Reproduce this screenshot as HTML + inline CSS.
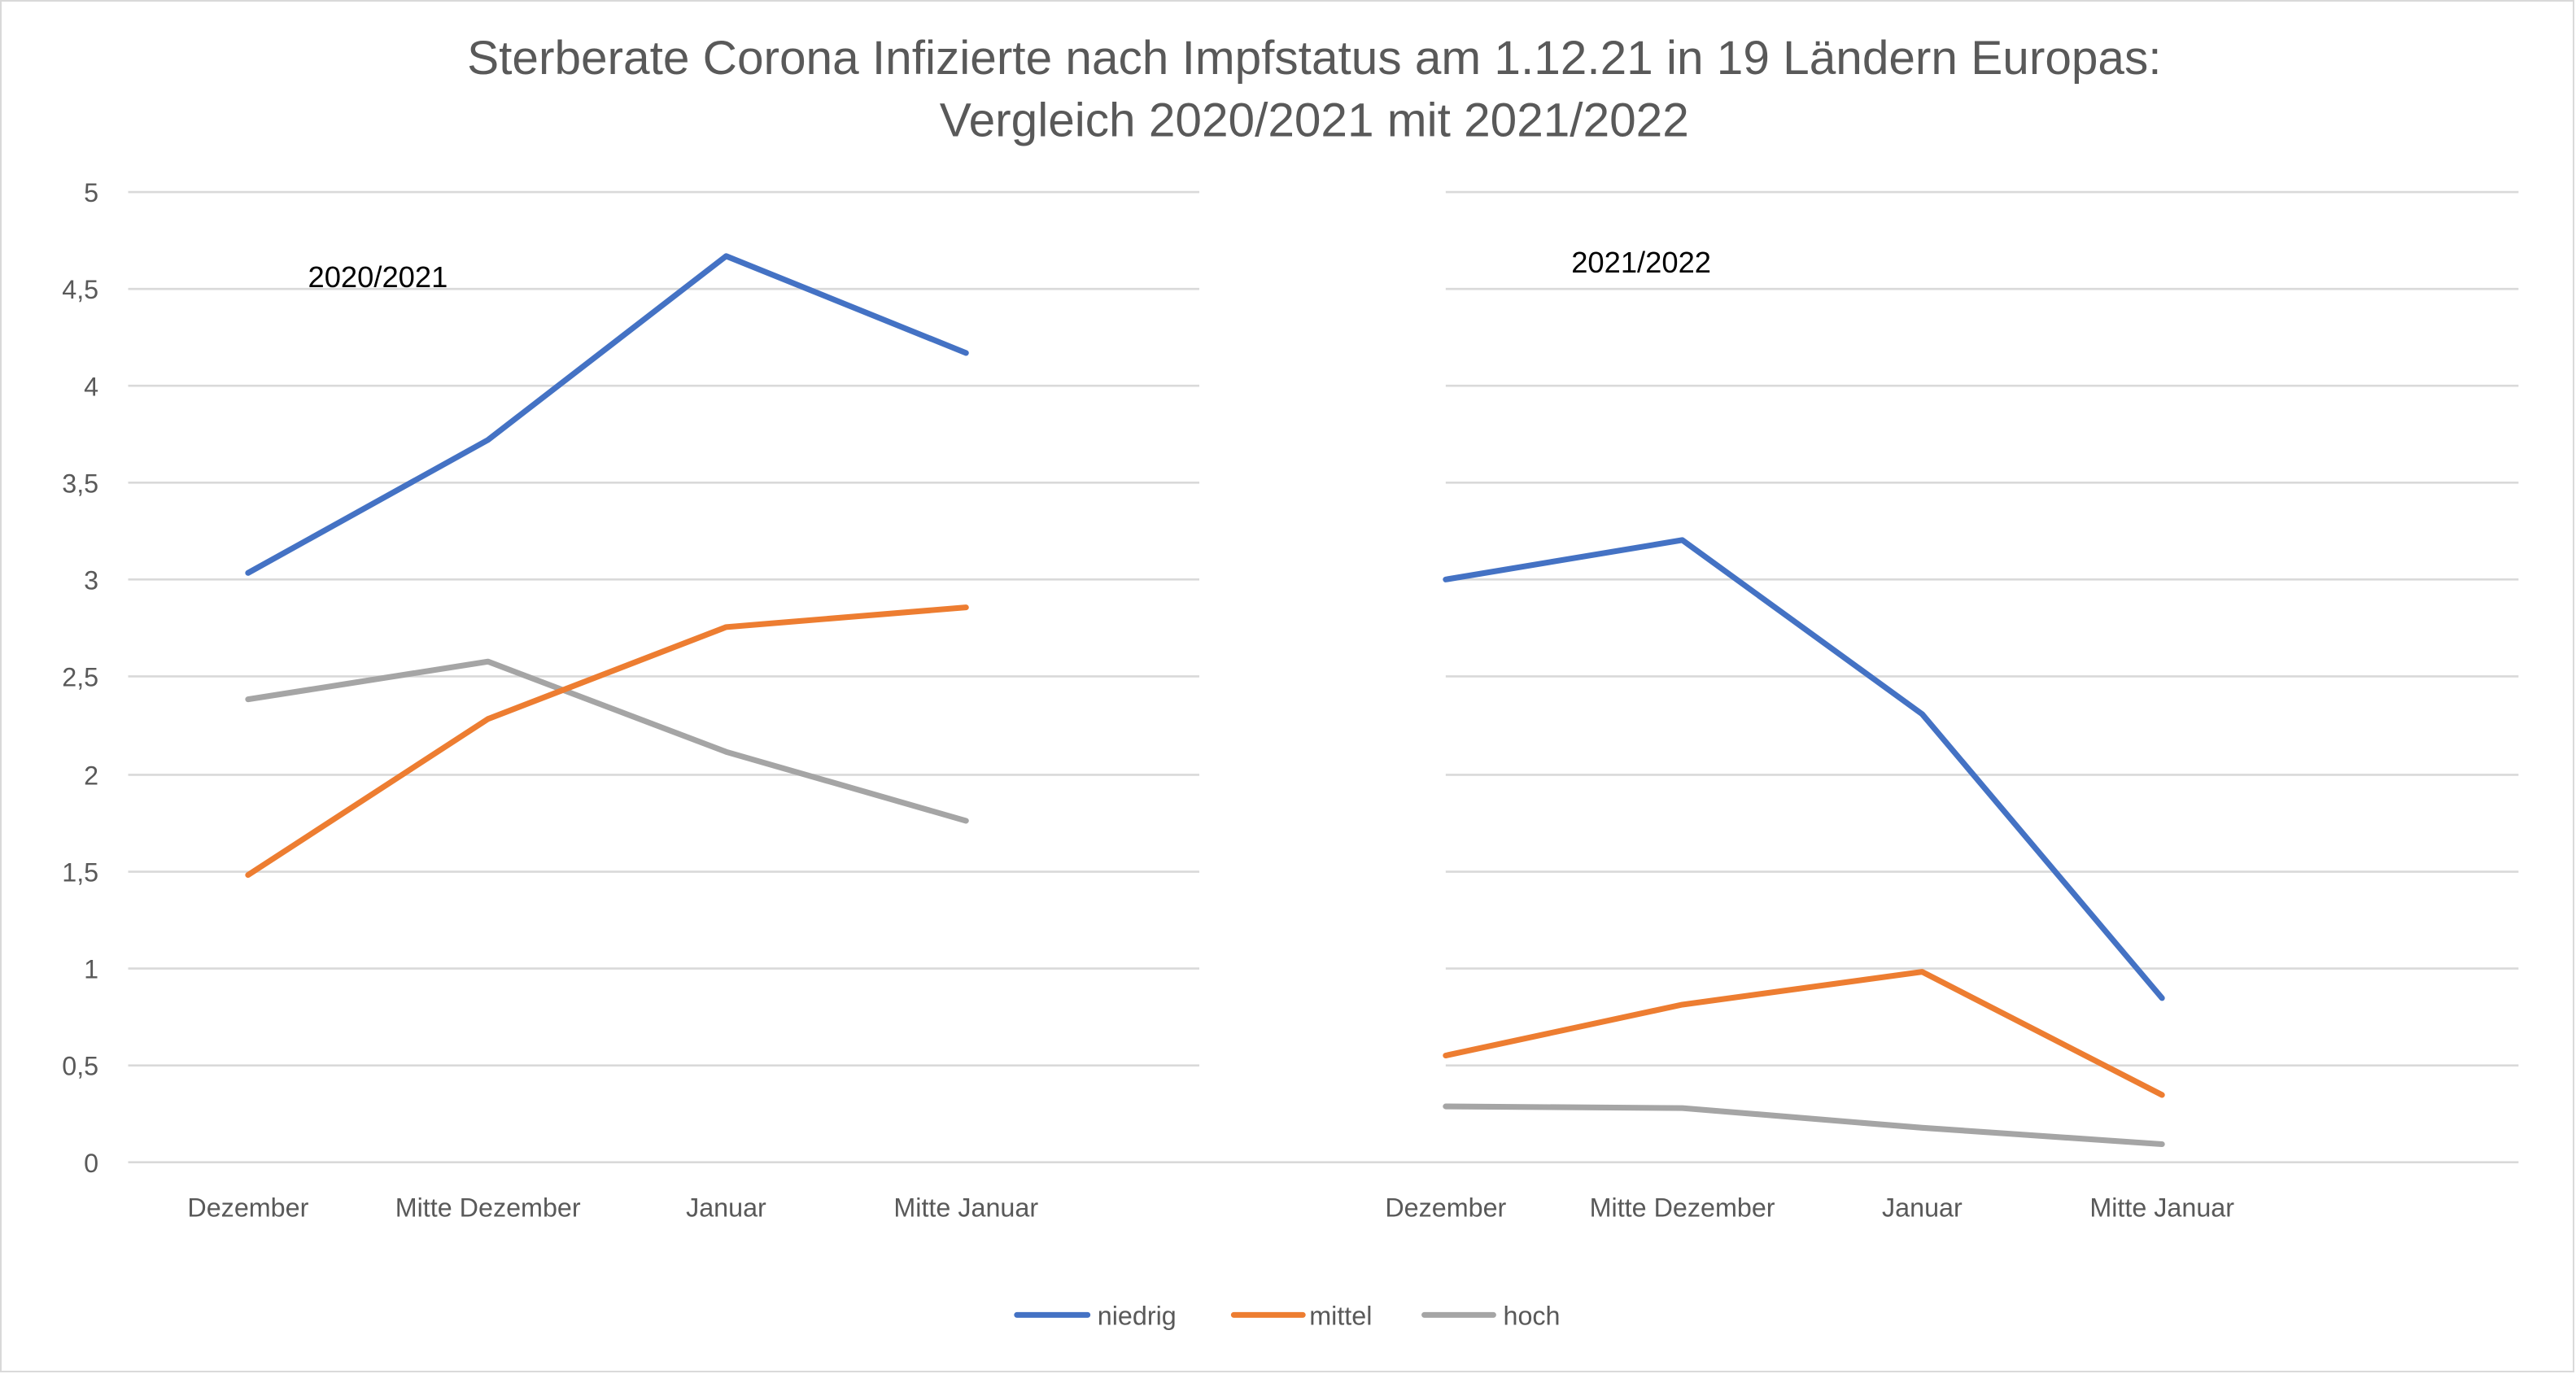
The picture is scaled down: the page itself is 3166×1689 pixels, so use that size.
<!DOCTYPE html>
<html><head><meta charset="utf-8"><style>
html,body{margin:0;padding:0;background:#fff;}
svg{display:block;}
text{font-family:"Liberation Sans",sans-serif;}
</style></head><body>
<svg width="3166" height="1689" viewBox="0 0 1568 837" preserveAspectRatio="none" xmlns="http://www.w3.org/2000/svg">
<rect x="0.5" y="0.5" width="1566" height="835" fill="#fff" stroke="#d9d9d9" stroke-width="1"/>
<g fill="#595959" text-anchor="middle" font-size="29">
<text x="800" y="45">Sterberate Corona Infizierte nach Impfstatus am 1.12.21 in 19 Ländern Europas:</text>
<text x="800" y="83">Vergleich 2020/2021 mit 2021/2022</text>
</g>
<g stroke="#d9d9d9" stroke-width="1.3">
<line x1="78" y1="117" x2="730" y2="117"/><line x1="880" y1="117" x2="1533" y2="117"/>
<line x1="78" y1="176" x2="730" y2="176"/><line x1="880" y1="176" x2="1533" y2="176"/>
<line x1="78" y1="235" x2="730" y2="235"/><line x1="880" y1="235" x2="1533" y2="235"/>
<line x1="78" y1="294" x2="730" y2="294"/><line x1="880" y1="294" x2="1533" y2="294"/>
<line x1="78" y1="353" x2="730" y2="353"/><line x1="880" y1="353" x2="1533" y2="353"/>
<line x1="78" y1="412" x2="730" y2="412"/><line x1="880" y1="412" x2="1533" y2="412"/>
<line x1="78" y1="472" x2="730" y2="472"/><line x1="880" y1="472" x2="1533" y2="472"/>
<line x1="78" y1="531" x2="730" y2="531"/><line x1="880" y1="531" x2="1533" y2="531"/>
<line x1="78" y1="590" x2="730" y2="590"/><line x1="880" y1="590" x2="1533" y2="590"/>
<line x1="78" y1="649" x2="730" y2="649"/><line x1="880" y1="649" x2="1533" y2="649"/>
<line x1="78" y1="708" x2="1533" y2="708"/>
</g>
<g fill="#595959" font-size="16" text-anchor="end">
<text x="60" y="123">5</text><text x="60" y="182">4,5</text><text x="60" y="241">4</text>
<text x="60" y="300">3,5</text><text x="60" y="359">3</text><text x="60" y="418">2,5</text>
<text x="60" y="478">2</text><text x="60" y="537">1,5</text><text x="60" y="596">1</text>
<text x="60" y="655">0,5</text><text x="60" y="714">0</text>
</g>
<g fill="#595959" font-size="16" text-anchor="middle">
<text x="151" y="741">Dezember</text><text x="297" y="741">Mitte Dezember</text>
<text x="442" y="741">Januar</text><text x="588" y="741">Mitte Januar</text>
<text x="880" y="741">Dezember</text><text x="1024" y="741">Mitte Dezember</text>
<text x="1170" y="741">Januar</text><text x="1316" y="741">Mitte Januar</text>
</g>
<g fill="#000" font-size="18" text-anchor="middle">
<text x="230" y="175">2020/2021</text>
<text x="999" y="166">2021/2022</text>
</g>
<g fill="none" stroke-width="3.5" stroke-linejoin="round" stroke-linecap="round">
<polyline stroke="#a5a5a5" points="151,426 297,403 442,458 588,500"/>
<polyline stroke="#ed7d31" points="151,533 297,438 442,382 588,370"/>
<polyline stroke="#4472c4" points="151,349 297,268 442,156 588,215"/>
<polyline stroke="#a5a5a5" points="880,674 1024,675 1170,687 1316,697"/>
<polyline stroke="#ed7d31" points="880,643 1024,612 1170,592 1316,667"/>
<polyline stroke="#4472c4" points="880,353 1024,329 1170,435 1316,608"/>
</g>
<g stroke-width="3.5" stroke-linecap="round">
<line x1="619" y1="801" x2="662" y2="801" stroke="#4472c4"/>
<line x1="751" y1="801" x2="793" y2="801" stroke="#ed7d31"/>
<line x1="867" y1="801" x2="909" y2="801" stroke="#a5a5a5"/>
</g>
<g fill="#595959" font-size="16">
<text x="668" y="807">niedrig</text><text x="797" y="807">mittel</text><text x="915" y="807">hoch</text>
</g>
</svg>
</body></html>
